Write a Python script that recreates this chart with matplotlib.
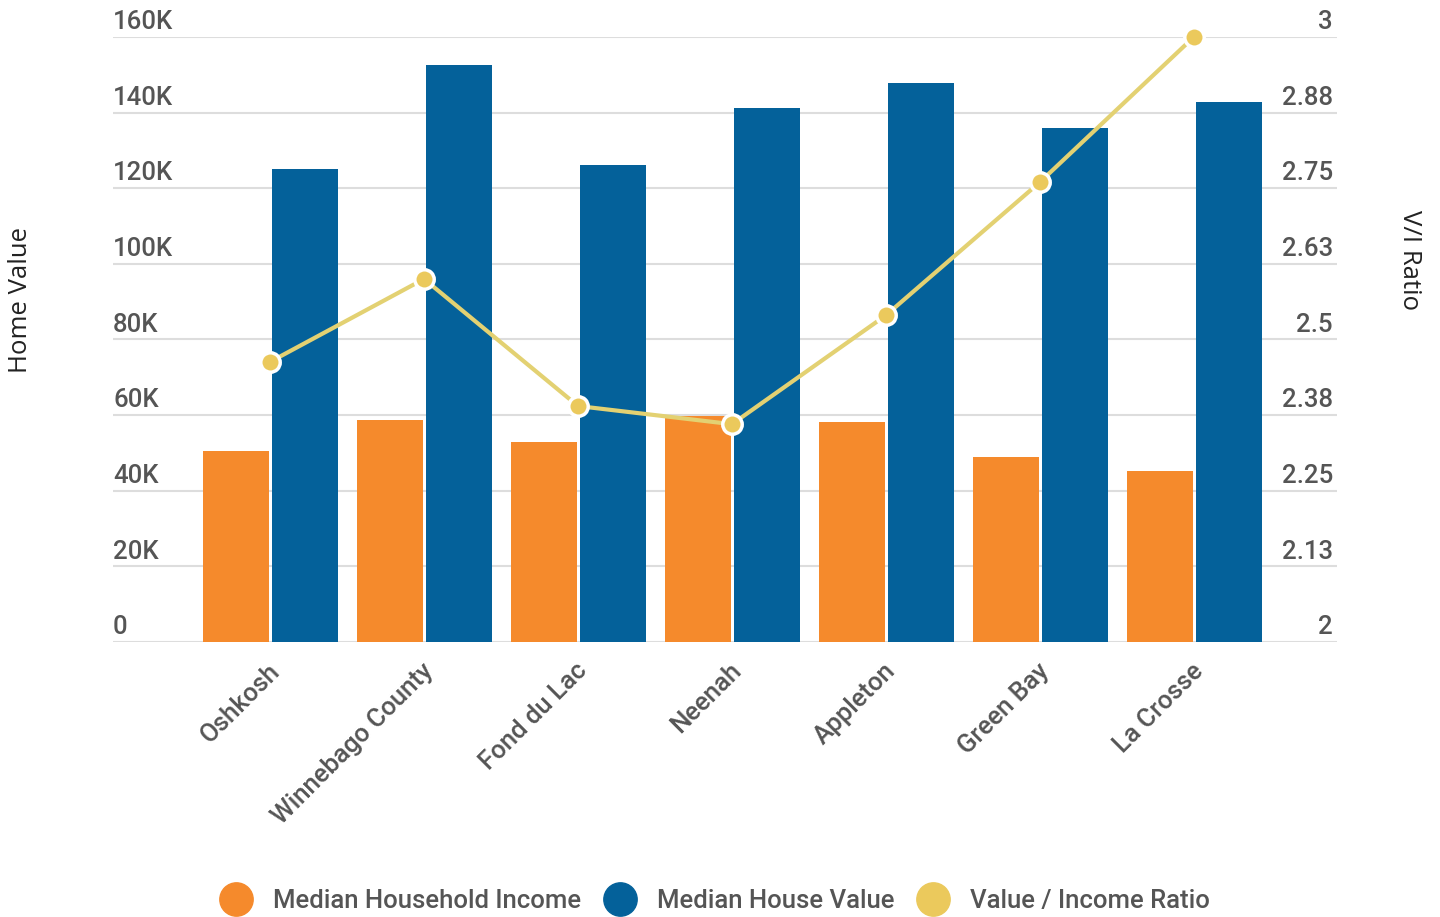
import numpy as np
import matplotlib
matplotlib.use("Agg")
import matplotlib.pyplot as plt
from matplotlib.lines import Line2D
import matplotlib.transforms as mtransforms

# data
cities = ["Oshkosh", "Winnebago County", "Fond du Lac", "Neenah",
          "Appleton", "Green Bay", "La Crosse"]
income = [50.5, 58.7, 52.9, 59.8, 58.2, 48.9, 45.2]        # thousands
house_value = [125.1, 152.6, 126.2, 141.3, 147.9, 136.0, 142.9]  # thousands
ratio = [2.463, 2.60, 2.39, 2.36, 2.54, 2.76, 3.0]

left_ticks = [0, 20, 40, 60, 80, 100, 120, 140, 160]
left_labels = ["0", "20K", "40K", "60K", "80K", "100K", "120K", "140K", "160K"]
right_ticks = [2, 2.125, 2.25, 2.375, 2.5, 2.625, 2.75, 2.875, 3]
right_labels = ["2", "2.13", "2.25", "2.38", "2.5", "2.63", "2.75", "2.88", "3"]

ORANGE = "#F58A2C"
BLUE = "#04619A"
YELLOW = "#EBC95C"
LINE = "#E3D172"
TEXT = "#555555"
FS = 18.5

plt.rcParams["font.family"] = ["Roboto", "DejaVu Sans"]
plt.rcParams["font.weight"] = "medium"

fig = plt.figure(figsize=(14.4, 9.17), dpi=100)
ax = fig.add_axes([0.0785, 0.2999, 0.85, 0.6598])
ax2 = ax.twinx()

x = np.arange(len(cities))
w = 0.43
ax.bar(x - 0.222, income, width=w, color=ORANGE, zorder=2)
ax.bar(x + 0.227, house_value, width=w, color=BLUE, zorder=2)

ax2.plot(x, ratio, color=LINE, lw=3, marker="o", markersize=14,
         markerfacecolor=YELLOW, markeredgecolor="white", markeredgewidth=2.5,
         zorder=3, clip_on=False)

ax.set_xlim(-1.02, 6.93)
ax.set_ylim(0, 160)
ax2.set_ylim(2, 3)

ax.set_yticks(left_ticks)
ax.set_yticklabels(left_labels)
ax2.set_yticks(right_ticks)
ax2.set_yticklabels(right_labels)
ax.grid(axis="y", color="#dddddd", lw=1.5, zorder=0)
ax.set_axisbelow(True)

for a in (ax, ax2):
    for s in a.spines.values():
        s.set_visible(False)

ax.tick_params(axis="y", length=0, pad=0, labelsize=FS, labelcolor=TEXT)
ax2.tick_params(axis="y", length=0, pad=0, labelsize=FS, labelcolor=TEXT)
up = mtransforms.ScaledTranslation(0, 2 / 72, fig.dpi_scale_trans)
for lab in ax.get_yticklabels():
    lab.set_horizontalalignment("left")
    lab.set_verticalalignment("bottom")
    lab.set_transform(lab.get_transform() + up)
left = mtransforms.ScaledTranslation(-3 / 72, 0, fig.dpi_scale_trans)
for lab in ax2.get_yticklabels():
    lab.set_horizontalalignment("right")
    lab.set_verticalalignment("bottom")
    lab.set_transform(lab.get_transform() + up + left)

ax.set_xticks(x)
ax.set_xticklabels(cities, rotation=45, ha="right", rotation_mode="anchor")
ax.tick_params(axis="x", length=0, pad=12, labelsize=FS, labelcolor=TEXT)
shift = mtransforms.ScaledTranslation(-2 / 72, 0, fig.dpi_scale_trans)
for lab in ax.get_xticklabels():
    lab.set_transform(lab.get_transform() + shift)

fig.text(0.014, 0.673, "Home Value", rotation=90, ha="center", va="center",
         fontsize=18.5, fontweight="normal", color="#222222",
         family=["Open Sans", "DejaVu Sans"])
fig.text(0.979, 0.716, "V/I Ratio", rotation=270, ha="center", va="center",
         fontsize=18.5, fontweight="normal", color="#222222",
         family=["Open Sans", "DejaVu Sans"])

handles = [
    Line2D([], [], marker="o", ls="", markersize=24, color=ORANGE),
    Line2D([], [], marker="o", ls="", markersize=24, color=BLUE),
    Line2D([], [], marker="o", ls="", markersize=24, color=YELLOW),
]
fig.legend(handles, ["Median Household Income", "Median House Value",
                     "Value / Income Ratio"],
           loc="center", bbox_to_anchor=(0.493, 0.017), ncol=3, frameon=False,
           fontsize=18.5, labelcolor=TEXT, handletextpad=0.45, columnspacing=0.5)

fig.savefig("out.png", dpi=100)
